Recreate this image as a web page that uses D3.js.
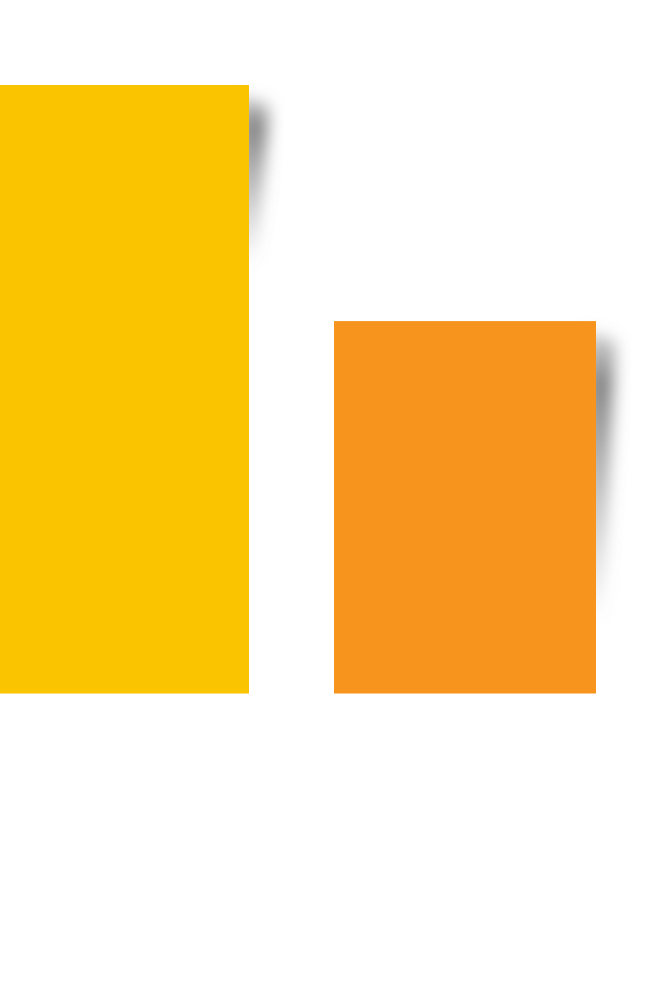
<!DOCTYPE html>
<html><head><meta charset="utf-8">
<script src="https://cdn.jsdelivr.net/npm/d3@7"></script>
<style>html,body{margin:0;padding:0;background:#fff;overflow:hidden}</style>
</head><body>
<svg id="c" width="647" height="982"></svg>
<script>
const categories = ["A", "B"];
const values = [100, 61.2];
const colors = ["#FAC500", "#F7941E"];

const svg = d3.select("#c");
const x = d3.scaleBand().domain(categories).range([-13, 596]).paddingInner(85/347).paddingOuter(0);
const y = d3.scaleLinear().domain([0, 100]).range([693.5, 85]);

const defs = svg.append("defs");
const f = defs.append("filter").attr("id","blur").attr("x","-50%").attr("y","-50%").attr("width","200%").attr("height","200%");
f.append("feGaussianBlur").attr("stdDeviation", 8);
const tails = [180, 300];
categories.forEach((c,i)=>{
  const g = defs.append("linearGradient").attr("id","sg"+i).attr("x1",0).attr("y1",0).attr("x2",0).attr("y2",1);
  g.append("stop").attr("offset","0%").attr("stop-color","#777").attr("stop-opacity",0.3);
  g.append("stop").attr("offset","18%").attr("stop-color","#777").attr("stop-opacity",0.9);
  g.append("stop").attr("offset","100%").attr("stop-color","#777").attr("stop-opacity",0);
});

const data = categories.map((c,i)=>({c, v: values[i], i}));
svg.selectAll("path.shadow").data(data).join("path")
  .attr("class","shadow")
  .attr("fill", d=>`url(#sg${d.i})`)
  .attr("filter","url(#blur)")
  .attr("d", d=>{
    const r = x(d.c) + x.bandwidth();
    const t = y(d.v);
    const L = tails[d.i];
    return `M${r-10},${t+10} L${r+20},${t+20} L${r+18},${t+55} L${r+6},${t+L} L${r-10},${t+L} Z`;
  });

svg.selectAll("rect.bar").data(data).join("rect")
  .attr("class","bar")
  .attr("x", d=>x(d.c))
  .attr("y", d=>y(d.v))
  .attr("width", x.bandwidth())
  .attr("height", d=>y(0)-y(d.v))
  .attr("fill", d=>colors[d.i]);
</script>
</body></html>
